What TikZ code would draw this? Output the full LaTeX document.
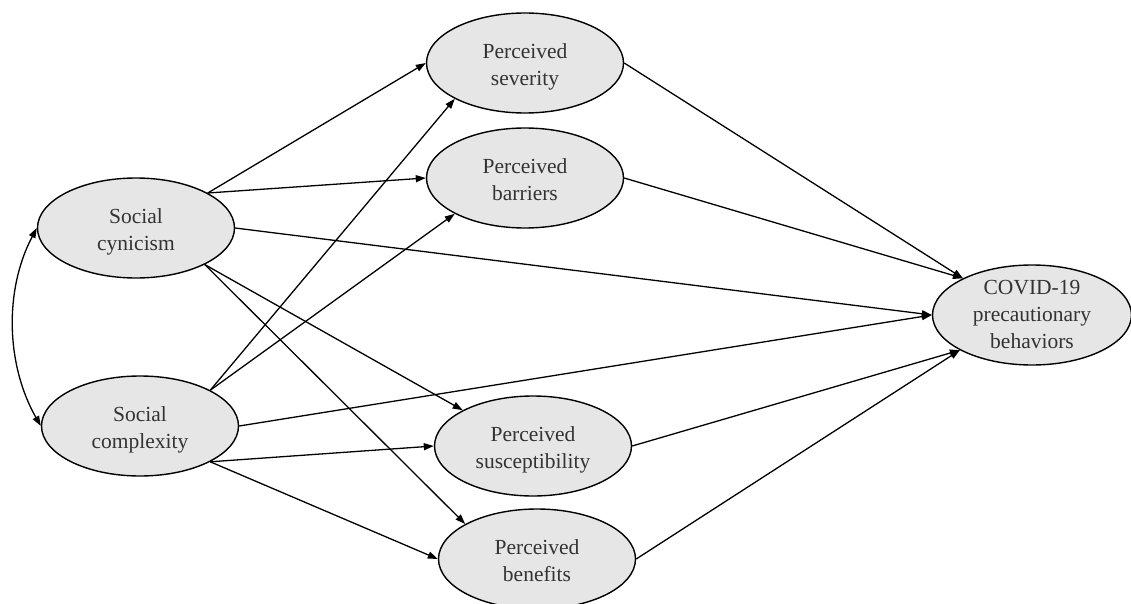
\documentclass[tikz,border=0pt]{standalone}
\usepackage{fontspec}
\setmainfont{Liberation Serif}
\usetikzlibrary{shapes.geometric,arrows.meta}
\definecolor{elfill}{HTML}{E6E6E6}
\definecolor{txtcol}{HTML}{333333}
\begin{document}
\begin{tikzpicture}[x=1pt,y=-1pt,
  el/.style={ellipse, draw=black, line width=1.4pt, fill=elfill, minimum width=197pt, minimum height=100pt, inner sep=0pt},
  lbl/.style={align=center, font=\fontsize{21.5}{27}\selectfont, text=txtcol, inner sep=0pt, yshift=-3.5pt},
  tip/.style={Triangle[length=10pt,width=7pt]},
  arr/.style={line width=1.3pt, -{Triangle[length=10pt,width=7pt]}},
  darr/.style={line width=1.3pt, {Triangle[length=10pt,width=7pt]}-{Triangle[length=10pt,width=7pt]}},
]
\useasboundingbox (0,0) rectangle (1131,604);
\node[el] (cyn) at (136,228) {};
\node[el] (cpx) at (140,426) {};
\node[el] (sev) at (525,63) {};
\node[el] (bar) at (525,178) {};
\node[el] (sus) at (533,446) {};
\node[el] (ben) at (537,559) {};
\node[el, minimum width=199pt] (cov) at (1032,315) {};

\node[lbl] (cynt) at (cyn) {\strut Social\\\strut cynicism};
\node[lbl] (cpxt) at (cpx) {\strut Social\\\strut complexity};
\node[lbl] (sevt) at (sev) {\strut Perceived\\\strut severity};
\node[lbl] (bart) at (bar) {\strut Perceived\\\strut barriers};
\node[lbl] (sust) at (sus) {\strut Perceived\\\strut susceptibility};
\node[lbl] (bent) at (ben) {\strut Perceived\\\strut benefits};
\node[lbl, yshift=2pt] (covt) at (cov) {\strut COVID-19\\\strut precautionary\\\strut behaviors};

\draw[arr] (cyn.26) -- (sev.180);
\draw[arr] (cyn.26) -- (bar.180);
\draw[arr] (cyn.0) -- (cov.180);
\draw[arr] (cyn.-28) -- (sus.153);
\draw[arr] (cyn.-28) -- (ben.154);
\draw[arr] (cpx.27) -- (sev.207);
\draw[arr] (cpx.27) -- (bar.207);
\draw[arr] (cpx.0) -- (cov.180);
\draw[arr] (cpx.-27) -- (sus.180);
\draw[arr] (cpx.-27) -- (ben.180);
\draw[arr] (sev.0) -- (cov.152);
\draw[arr] (bar.0) -- (cov.152);
\draw[arr] (sus.0) -- (cov.206);
\draw[arr] (ben.0) -- (cov.206);
\draw[darr] (cyn.west) .. controls (4,290) and (6,365) .. (cpx.west);
\end{tikzpicture}
\end{document}
